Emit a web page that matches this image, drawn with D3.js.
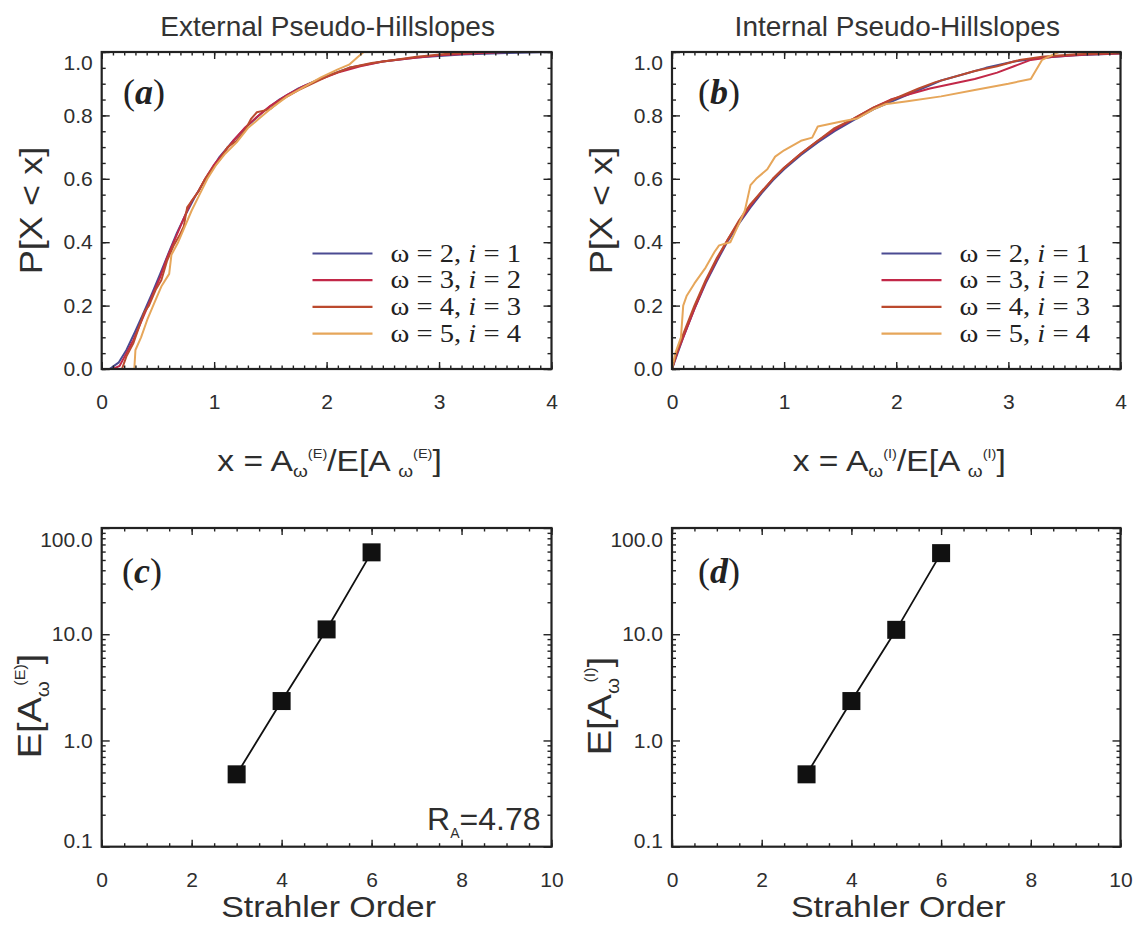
<!DOCTYPE html>
<html><head><meta charset="utf-8">
<script src="https://cdn.jsdelivr.net/npm/d3@7"></script>
<style>body{margin:0;background:#fff} svg{display:block}</style>
</head><body><svg id="chart" width="1136" height="931"></svg>
<script>
// ---------------- DATA ----------------
const cdfXTicks = [0, 1, 2, 3, 4];
const cdfYTicks = [0, 0.2, 0.4, 0.6, 0.8, 1.0];
const strahlerTicks = [0, 2, 4, 6, 8, 10];
const areaTicks = [0.1, 1, 10, 100];
const legendOmega = [2, 3, 4, 5];
const legendI = [1, 2, 3, 4];
const seriesColors = ["#4b4b92", "#c22848", "#bb4a2e", "#e6a65a"];
const panelTitles = ["External Pseudo-Hillslopes", "Internal Pseudo-Hillslopes"];
const panelLetters = ["a", "b", "c", "d"];
const ratioValue = "4.78";

// panel (a): external pseudo-hillslopes, CDF of x = A/E[A]
const extW2 = [[0,0],[0.07,0],[0.15,0.02],[0.22,0.06],[0.3,0.12],[0.37,0.175],[0.45,0.24],[0.52,0.30],[0.6,0.37],[0.67,0.43],[0.75,0.49],[0.84,0.55],[0.95,0.615],[1.05,0.67],[1.17,0.72],[1.29,0.765],[1.43,0.81],[1.58,0.85],[1.75,0.885],[1.91,0.91],[2.05,0.93],[2.2,0.95],[2.5,0.97],[2.8,0.983],[3.2,0.992],[3.6,0.997],[4.0,1.0]];
const extW3 = [[0,0],[0.1,0],[0.16,0.01],[0.22,0.05],[0.28,0.09],[0.34,0.14],[0.4,0.19],[0.46,0.24],[0.52,0.29],[0.58,0.35],[0.64,0.40],[0.7,0.45],[0.76,0.5],[0.8,0.53],[0.86,0.56],[0.92,0.6],[1.0,0.645],[1.08,0.68],[1.17,0.72],[1.27,0.76],[1.38,0.795],[1.5,0.83],[1.65,0.865],[1.8,0.893],[1.95,0.915],[2.1,0.935],[2.3,0.955],[2.5,0.97],[2.75,0.98],[3.0,0.99],[3.3,0.995],[3.6,1.0],[4.0,1.0]];
const extW4 = [[0,0],[0.13,0],[0.18,0.0],[0.22,0.04],[0.28,0.08],[0.33,0.13],[0.38,0.18],[0.42,0.2],[0.48,0.25],[0.53,0.28],[0.58,0.34],[0.64,0.39],[0.69,0.42],[0.73,0.45],[0.76,0.51],[0.8,0.53],[0.86,0.56],[0.92,0.6],[0.98,0.63],[1.05,0.66],[1.12,0.70],[1.2,0.72],[1.27,0.75],[1.33,0.79],[1.38,0.81],[1.44,0.815],[1.5,0.82],[1.6,0.85],[1.75,0.88],[1.9,0.905],[2.05,0.93],[2.2,0.95],[2.4,0.965],[2.6,0.975],[2.8,0.985],[3.1,0.995],[3.4,1.0],[4.0,1.0]];
const extW5 = [[0,0],[0.29,0],[0.3,0.06],[0.35,0.1],[0.41,0.16],[0.47,0.21],[0.53,0.26],[0.6,0.3],[0.62,0.36],[0.68,0.4],[0.74,0.45],[0.8,0.5],[0.87,0.55],[0.94,0.6],[1.02,0.645],[1.1,0.68],[1.2,0.715],[1.3,0.76],[1.4,0.79],[1.5,0.82],[1.65,0.86],[1.8,0.89],[1.95,0.92],[2.1,0.945],[2.2,0.96],[2.28,0.985],[2.33,1.0],[4.0,1.0]];

// panel (b): internal pseudo-hillslopes
const intW2 = [[0,0],[0.05,0.05],[0.1,0.1],[0.15,0.145],[0.2,0.19],[0.3,0.27],[0.4,0.34],[0.5,0.405],[0.6,0.46],[0.7,0.51],[0.8,0.555],[0.9,0.595],[1.0,0.63],[1.15,0.675],[1.3,0.715],[1.45,0.75],[1.62,0.785],[1.8,0.82],[2.0,0.85],[2.2,0.88],[2.4,0.91],[2.6,0.93],[2.8,0.95],[3.05,0.97],[3.3,0.982],[3.6,0.99],[4.0,0.995]];
const intW3 = [[0,0],[0.05,0.055],[0.1,0.1],[0.2,0.19],[0.3,0.275],[0.4,0.345],[0.5,0.41],[0.6,0.465],[0.7,0.515],[0.8,0.56],[0.9,0.6],[1.0,0.635],[1.15,0.68],[1.3,0.72],[1.45,0.755],[1.62,0.79],[1.8,0.825],[1.95,0.85],[2.1,0.865],[2.3,0.885],[2.5,0.9],[2.7,0.915],[2.9,0.935],[3.05,0.955],[3.2,0.975],[3.4,0.985],[3.7,0.992],[4.0,0.995]];
const intW4 = [[0,0],[0.04,0.05],[0.1,0.11],[0.2,0.2],[0.3,0.28],[0.4,0.35],[0.5,0.41],[0.6,0.47],[0.7,0.52],[0.8,0.56],[0.9,0.6],[1.0,0.635],[1.15,0.68],[1.3,0.72],[1.45,0.76],[1.62,0.79],[1.8,0.825],[2.0,0.855],[2.2,0.885],[2.35,0.905],[2.5,0.92],[2.7,0.94],[2.9,0.955],[3.1,0.975],[3.3,0.985],[3.6,0.993],[4.0,0.997]];
const intW5 = [[0,0],[0.03,0.05],[0.08,0.1],[0.1,0.2],[0.13,0.23],[0.2,0.27],[0.3,0.32],[0.38,0.37],[0.42,0.39],[0.52,0.40],[0.6,0.46],[0.65,0.5],[0.7,0.58],[0.75,0.6],[0.85,0.63],[0.92,0.67],[1.0,0.69],[1.15,0.72],[1.25,0.73],[1.3,0.765],[1.5,0.78],[1.65,0.79],[1.8,0.82],[1.9,0.835],[2.1,0.845],[2.4,0.86],[2.7,0.88],[3.0,0.9],[3.2,0.915],[3.3,0.975],[3.45,1.0],[4.0,1.0]];

// panels (c),(d): mean area vs Strahler order
const strahlerOrders = [3, 4, 5, 6];
const extMeanArea = [0.48, 2.35, 11.1, 59];
const intMeanArea = [0.48, 2.35, 11.0, 58];

// ---------------- DRAWING ----------------
const SANS = "'Liberation Sans', Arial, Helvetica, sans-serif";
const SERIF = "'Liberation Serif', 'Times New Roman', serif";
const INK = "#222";
const TXT = "#2e2e2e";
const svg = d3.select("#chart");
svg.append("rect").attr("width", 1136).attr("height", 931).attr("fill", "#fff");

const cols = [{x0: 101.7, x1: 551.5}, {x0: 672, x1: 1120.5}];
const rows = [{yb: 369, yt: 52}, {yb: 846.7, yt: 528}];

function range(a, b, s) { const r = []; for (let v = a; v <= b + 1e-9; v += s) r.push(+v.toFixed(6)); return r; }

function boxAxes(g, xs, ys, o) {
  const [xa, xb] = xs.range(); const [ya, yb] = ys.range();
  const put = (axis, tr) => {
    const a = g.append("g").attr("transform", tr).call(axis);
    a.select(".domain").remove();
    a.attr("color", INK).attr("font-family", SANS).attr("font-size", 21);
    a.selectAll("line").attr("stroke-width", 1.4);
    a.selectAll("text").attr("fill", TXT);
    return a;
  };
  put(d3.axisBottom(xs).tickValues(o.xMaj).tickSize(-7).tickPadding(25).tickFormat(o.xFmt), `translate(0,${ya})`);
  put(d3.axisBottom(xs).tickValues(o.xMin).tickSize(-3.5).tickFormat(""), `translate(0,${ya})`);
  put(d3.axisTop(xs).tickValues(o.xMaj).tickSize(-7).tickFormat(""), `translate(0,${yb})`);
  put(d3.axisTop(xs).tickValues(o.xMin).tickSize(-3.5).tickFormat(""), `translate(0,${yb})`);
  const yl = put(d3.axisLeft(ys).tickValues(o.yMaj).tickSize(-8).tickPadding(9).tickFormat(o.yFmt), `translate(${xa},0)`);
  put(d3.axisLeft(ys).tickValues(o.yMin).tickSize(-4).tickFormat(""), `translate(${xa},0)`);
  put(d3.axisRight(ys).tickValues(o.yMaj).tickSize(-8).tickFormat(""), `translate(${xb},0)`);
  put(d3.axisRight(ys).tickValues(o.yMin).tickSize(-4).tickFormat(""), `translate(${xb},0)`);
  if (o.yShift) yl.selectAll("text").attr("transform", d => o.yShift(d));
  g.append("rect").attr("x", xa).attr("y", yb).attr("width", xb - xa).attr("height", ya - yb)
    .attr("fill", "none").attr("stroke", INK).attr("stroke-width", 2.2);
}

function panelLetter(g, x, y, letter) {
  const t = g.append("text").attr("x", x).attr("y", y).attr("font-family", SERIF).attr("font-size", 36).attr("fill", "#222");
  t.append("tspan").text("(");
  t.append("tspan").attr("font-style", "italic").attr("font-weight", "bold").text(letter);
  t.append("tspan").text(")");
}

// text stretched along its own direction (the original figure's lettering is wide)
function wideText(g, x, y, sx, rot) {
  return g.append("text")
    .attr("transform", `translate(${x},${y})${rot ? " rotate(-90)" : ""} scale(${sx},1)`)
    .attr("text-anchor", "middle").attr("font-family", SANS).attr("fill", TXT);
}

// label such as x = A_ω^(E)/E[A_ω^(E)]
function xLabel(g, cx, y, tag) {
  const t = wideText(g, cx, y, 1.12, false).attr("font-size", 30);
  t.append("tspan").text("x = A");
  t.append("tspan").attr("font-size", 17).attr("dy", 6).text("ω");
  t.append("tspan").attr("font-size", 13).attr("dy", -19).text(tag);
  t.append("tspan").attr("dy", 13).text("/E[A ");
  t.append("tspan").attr("font-size", 17).attr("dy", 6).text("ω");
  t.append("tspan").attr("font-size", 13).attr("dy", -19).text(tag);
  t.append("tspan").attr("dy", 13).text("]");
}

function yLabelArea(g, x, cy, tag) {
  const t = wideText(g, x, cy, 1.15, true).attr("font-size", 33);
  t.append("tspan").text("E[A");
  t.append("tspan").attr("font-size", 18).attr("dy", 8).text("ω");
  t.append("tspan").attr("font-size", 14).attr("dy", -24).attr("dx", -4).text(tag);
  t.append("tspan").attr("dy", 16).text("]");
}

// ---- CDF panels ----
const cdfSets = [[extW2, extW3, extW4, extW5], [intW2, intW3, intW4, intW5]];
const cdfTags = ["(E)", "(I)"];
const cdfLetterX = [123, 698];

cdfSets.forEach((series, ci) => {
  const c = cols[ci], r = rows[0];
  const g = svg.append("g");
  const xs = d3.scaleLinear().domain([0, 4]).range([c.x0, c.x1]);
  const ys = d3.scaleLinear().domain([0, 1]).range([r.yb, r.yt]);
  const clipId = "clipcdf" + ci;
  svg.append("clipPath").attr("id", clipId).append("rect")
    .attr("x", c.x0).attr("y", r.yt - 1).attr("width", c.x1 - c.x0).attr("height", r.yb - r.yt + 2);
  const line = d3.line().x(d => xs(d[0])).y(d => ys(d[1]));
  g.append("g").attr("clip-path", `url(#${clipId})`).selectAll("path").data(series).join("path")
    .attr("d", line).attr("fill", "none").attr("stroke", (d, i) => seriesColors[i])
    .attr("stroke-width", 2).attr("stroke-linejoin", "round");
  boxAxes(g, xs, ys, {
    xMaj: cdfXTicks, xMin: range(0, 4, 0.1), xFmt: d3.format("d"),
    yMaj: cdfYTicks, yMin: range(0, 1, 0.05), yFmt: d3.format(".1f"),
    yShift: d => d === 1 ? "translate(0,11)" : null
  });
  // legend
  const lx = c.x1 - 239;
  legendOmega.forEach((w, i) => {
    const ly = 253.5 + i * 26.7;
    g.append("line").attr("x1", lx).attr("x2", lx + 60).attr("y1", ly).attr("y2", ly)
      .attr("stroke", seriesColors[i]).attr("stroke-width", 2.2);
    const t = g.append("text").attr("transform", `translate(${lx + 78},${ly + 8}) scale(1.1,1)`)
      .attr("font-family", SERIF).attr("font-size", 26).attr("fill", "#222");
    t.append("tspan").text(`ω = ${w}, `);
    t.append("tspan").attr("font-style", "italic").text("i");
    t.append("tspan").text(` = ${legendI[i]}`);
  });
  panelLetter(g, cdfLetterX[ci], 104, panelLetters[ci]);
  // title
  g.append("text").attr("x", (c.x0 + c.x1) / 2 + 1).attr("y", 36).attr("text-anchor", "middle")
    .attr("font-family", SANS).attr("font-size", 28).attr("fill", "#333").text(panelTitles[ci]);
  // axis labels
  xLabel(g, (c.x0 + c.x1) / 2 + 3, 471, cdfTags[ci]);
  wideText(g, c.x0 - 60, (r.yt + r.yb) / 2, 1.13, true).attr("font-size", 32).text("P[X < x]");
});

// ---- Strahler panels ----
const areaSets = [extMeanArea, intMeanArea];
const areaLetterX = [122, 698];
areaSets.forEach((vals, ci) => {
  const c = cols[ci], r = rows[1];
  const g = svg.append("g");
  const xs = d3.scaleLinear().domain([0, 10]).range([c.x0, c.x1]);
  const ys = d3.scaleLog().domain([0.1, 100]).range([r.yb, r.yt]);
  const minors = [];
  [0.1, 1, 10].forEach(dec => { for (let k = 2; k <= 9; k++) minors.push(dec * k); });
  const pts = strahlerOrders.map((o, i) => [o, vals[i]]);
  g.append("path").attr("d", d3.line().x(d => xs(d[0])).y(d => ys(d[1]))(pts))
    .attr("fill", "none").attr("stroke", "#111").attr("stroke-width", 1.8);
  g.selectAll("rect.pt").data(pts).join("rect").attr("class", "pt")
    .attr("x", d => xs(d[0]) - 9).attr("y", d => ys(d[1]) - 9).attr("width", 18).attr("height", 18)
    .attr("fill", "#111");
  boxAxes(g, xs, ys, {
    xMaj: strahlerTicks, xMin: range(0, 10, 0.5), xFmt: d3.format("d"),
    yMaj: areaTicks, yMin: minors, yFmt: d3.format(".1f"),
    yShift: d => d === 100 ? "translate(0,12)" : (d === 0.1 ? "translate(0,-6)" : null)
  });
  panelLetter(g, areaLetterX[ci], 583, panelLetters[ci + 2]);
  wideText(g, (c.x0 + c.x1) / 2 + 2, 917, 1.13, false).attr("font-size", 30).text("Strahler Order");
  yLabelArea(g, c.x0 - 61, 706, cdfTags[ci]);
  if (ci === 0) {
    const t = g.append("text").attr("x", c.x1 - 11).attr("y", 830).attr("text-anchor", "end")
      .attr("font-family", SANS).attr("font-size", 32).attr("fill", TXT);
    t.append("tspan").text("R");
    t.append("tspan").attr("font-size", 14).attr("dy", 8).text("A");
    t.append("tspan").attr("dy", -8).text("=" + ratioValue);
  }
});
</script>
</body></html>
